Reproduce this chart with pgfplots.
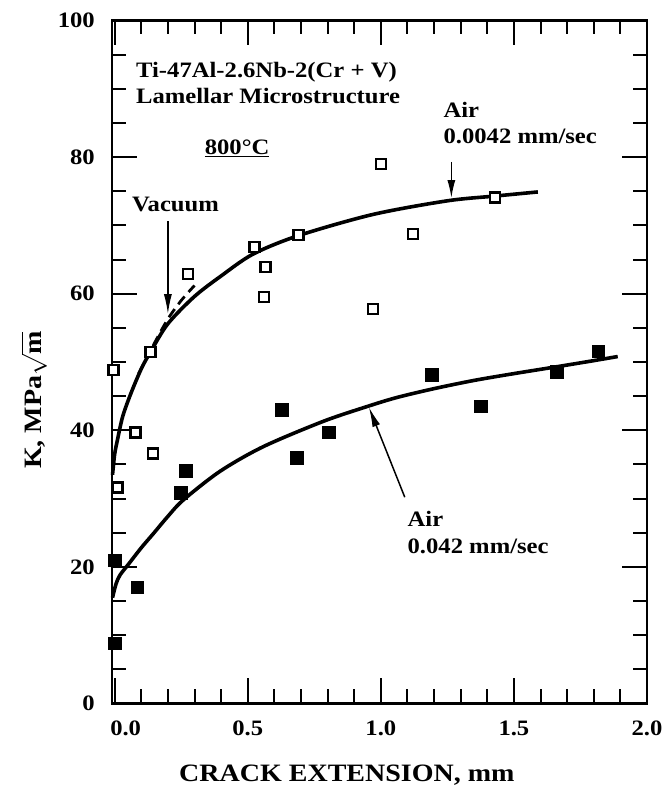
\documentclass[border=0pt]{standalone}
\usepackage{fontspec}
\setmainfont{Liberation Serif}[FakeStretch=1.12]
\usepackage{pgfplots}
\pgfplotsset{compat=1.18}
\usetikzlibrary{arrows.meta}
\begin{document}
\begin{tikzpicture}
\def\tf{\bfseries\fontsize{22}{25}\selectfont}
\begin{axis}[
  scale only axis, width=535pt, height=683pt,
  xmin=-0.01, xmax=2.0, ymin=0, ymax=100,
  clip=false,
  axis line style={line width=2.8pt},
  xtick={0,0.5,1,1.5,2},
  xticklabels={\hspace*{22pt}0.0,0.5,1.0,1.5,2.0},
  ytick={0,20,40,60,80,100},
  minor x tick num=4, minor y tick num=3,
  major tick length=25pt, minor tick length=14pt,
  tick align=inside,
  every tick/.style={line width=2pt, black},
  /pgf/number format/assume math mode=true,
  ticklabel style={font=\tf},
  xticklabel style={inner sep=0pt, yshift=-17pt},
  yticklabel style={inner sep=0pt, xshift=-17pt},
  xlabel={CRACK EXTENSION, mm},
  ylabel={K, MPa$\sqrt{\mbox{m}}$},
  label style={font=\bfseries\fontsize{25}{25}\selectfont, inner sep=0pt},
  xlabel style={at={(rel axis cs:0.439,0)}, anchor=center, yshift=-72pt},
  ylabel style={at={(rel axis cs:0,0.444)}, anchor=center, yshift=78pt},
]
\coordinate (bl) at (rel axis cs:0,0);
\coordinate (tr) at (rel axis cs:1,1);
% Air 0.0042 mm/sec fit
\addplot[smooth, line width=3.6pt, black] coordinates {
(-0.008,33.5) (0.0,36.5) (0.01,38.5) (0.03,42.0) (0.06,45.3) (0.1,49.0)
(0.135,51.5) (0.2,55.6) (0.3,59.6) (0.4,62.6) (0.52,65.8) (0.69,68.5)
(0.97,71.6) (1.25,73.6) (1.43,74.3) (1.59,74.9)};
% Vacuum (dashed)
\addplot[smooth, line width=2.8pt, black, dash pattern=on 10pt off 6pt] coordinates {
(0.09,48.3) (0.15,52.8) (0.2,56.3) (0.25,59.0) (0.30,61.2)};
% Air 0.042 mm/sec fit
\addplot[smooth, line width=3.6pt, black] coordinates {
(-0.008,15.5) (0.005,17.5) (0.02,18.8) (0.05,20.3) (0.1,22.8) (0.146,24.9)
(0.2,27.4) (0.258,29.8) (0.396,34.0) (0.558,37.6) (0.783,41.3) (0.95,43.5)
(1.06,44.8) (1.2,46.1) (1.35,47.3) (1.5,48.3) (1.66,49.3) (1.8,50.2) (1.89,50.8)};
% open squares
\addplot[only marks, mark=square*, mark size=5pt,
  mark options={fill=white, draw=black, line width=2.4pt, solid}] coordinates {
(-0.005,48.8) (0.135,51.5) (0.275,62.9) (0.525,66.8) (0.567,63.9) (0.562,59.5)
(0.69,68.6) (1.0,79.0) (0.97,57.8) (1.12,68.7) (1.43,74.1)
(0.078,39.7) (0.143,36.6) (0.01,31.6)};
% filled squares
\addplot[only marks, mark=square*, mark size=6.3pt, black] coordinates {
(0.0,8.8) (0.0,21.0) (0.084,17.0) (0.248,30.9) (0.268,34.1) (0.627,43.0)
(0.685,36.0) (0.805,39.7) (1.19,48.1) (1.375,43.5) (1.66,48.6) (1.816,51.6)};
% annotations
\node[anchor=base west, font=\tf, inner sep=0pt] at (axis cs:0.08,91.7) {Ti-47Al-2.6Nb-2(Cr + V)};
\node[anchor=base west, font=\tf, inner sep=0pt] at (axis cs:0.08,87.9) {Lamellar Microstructure};
\node[anchor=base, font=\tf, inner sep=0pt] at (axis cs:0.46,80.4) {\underline{800°C}};
\node[anchor=base west, font=\tf, inner sep=0pt] at (axis cs:0.065,72.0) {Vacuum};
\node[anchor=base west, font=\tf, inner sep=0pt] at (axis cs:1.235,85.8) {Air};
\node[anchor=base west, font=\tf, inner sep=0pt] at (axis cs:1.235,82.0) {0.0042 mm/sec};
\node[anchor=base west, font=\tf, inner sep=0pt] at (axis cs:1.10,25.9) {Air};
\node[anchor=base west, font=\tf, inner sep=0pt] at (axis cs:1.10,22.0) {0.042 mm/sec};
\draw[line width=1.5pt, -{Latex[length=20pt,width=8pt]}] (axis cs:0.20,70.6) -- (axis cs:0.20,57.0);
\draw[line width=1.5pt, -{Latex[length=18pt,width=8pt]}] (axis cs:1.265,79.3) -- (axis cs:1.265,74.0);
\draw[line width=1.5pt, -{Latex[length=20pt,width=8pt]}] (axis cs:1.09,30.2) -- (axis cs:0.955,43.4);
\end{axis}
\pgfresetboundingbox
\path ([shift={(-112pt,-89.5pt)}]bl) rectangle ([shift={(17pt,20.5pt)}]tr);
\end{tikzpicture}
\end{document}
